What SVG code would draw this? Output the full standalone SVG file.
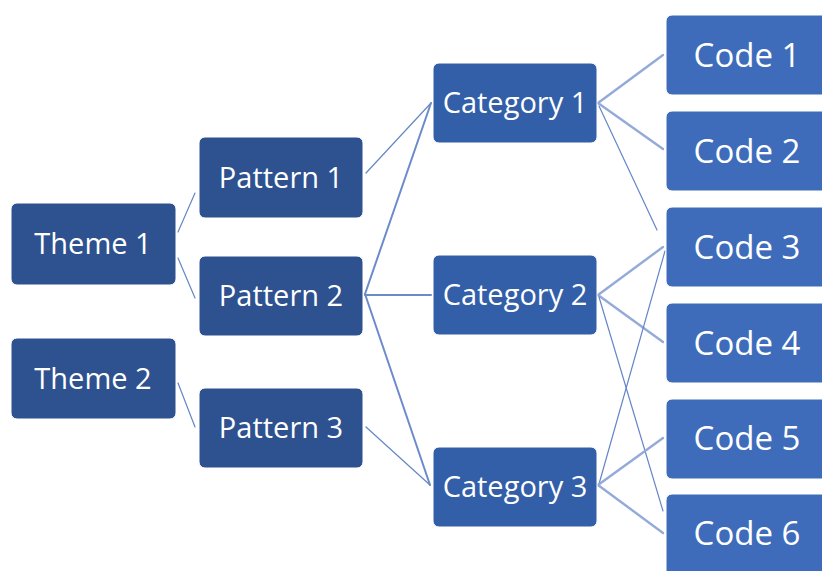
<svg xmlns="http://www.w3.org/2000/svg" width="822" height="571" viewBox="0 0 822 571">
  <style>
    .box { stroke: #ffffff; stroke-width: 1; }
    .theme { fill: #2E5190; }
    .pattern { fill: #2E5190; }
    .category { fill: #335EA8; }
    .code { fill: #3E6CBA; }
    text { font-family: "Open Sans", "Noto Sans", "Liberation Sans", sans-serif; fill: #ffffff; text-anchor: middle; }
    .t29 { font-size: 29px; }
    .t33 { font-size: 33px; }
    .thin { stroke: #6486C8; stroke-width: 1.2; fill: none; }
    .mid { stroke: #6C8BCB; stroke-width: 2; fill: none; }
    .thick { stroke: #94AAD8; stroke-width: 2.4; fill: none; }
  </style>

  <rect width="822" height="571" fill="#ffffff"/>

  <!-- connectors -->
  <g id="connectors" stroke-linecap="round">
    <!-- themes to patterns -->
    <line class="thin" x1="178" y1="232" x2="195" y2="193"/>
    <line class="thin" x1="178" y1="258" x2="195" y2="298"/>
    <line class="thin" x1="178" y1="383" x2="195" y2="427"/>
    <!-- patterns to categories -->
    <line class="thin" x1="366" y1="173" x2="431" y2="103"/>
    <line class="mid" x1="365" y1="294" x2="431" y2="103"/>
    <line class="mid" x1="365" y1="295" x2="431" y2="295"/>
    <line class="mid" x1="365" y1="294" x2="430" y2="485"/>
    <line class="thin" x1="366" y1="427" x2="430" y2="485"/>
    <!-- categories to codes -->
    <line class="thick" x1="598" y1="103" x2="663" y2="55"/>
    <line class="thick" x1="598" y1="103" x2="663" y2="149"/>
    <line class="thin" x1="599" y1="106" x2="657" y2="230"/>
    <line class="thick" x1="598" y1="295" x2="663" y2="247"/>
    <line class="thick" x1="598" y1="295" x2="663" y2="342"/>
    <line class="thin" x1="599" y1="297" x2="663" y2="511"/>
    <line class="thin" x1="599" y1="484" x2="665" y2="251"/>
    <line class="thick" x1="598" y1="485" x2="663" y2="438"/>
    <line class="thick" x1="598" y1="485" x2="663" y2="533"/>
  </g>

  <!-- themes -->
  <g id="theme1">
    <rect class="box theme" x="11" y="203" width="165" height="82" rx="6"/>
    <text class="t29" x="93" y="254">Theme 1</text>
  </g>
  <g id="theme2">
    <rect class="box theme" x="11" y="338" width="165" height="81" rx="6"/>
    <text class="t29" x="93" y="389">Theme 2</text>
  </g>

  <!-- patterns -->
  <g id="pattern1">
    <rect class="box pattern" x="199" y="137" width="164" height="81" rx="6"/>
    <text class="t29" x="281" y="188">Pattern 1</text>
  </g>
  <g id="pattern2">
    <rect class="box pattern" x="199" y="256" width="164" height="80" rx="6"/>
    <text class="t29" x="281" y="306">Pattern 2</text>
  </g>
  <g id="pattern3">
    <rect class="box pattern" x="199" y="388" width="164" height="80" rx="6"/>
    <text class="t29" x="281" y="438">Pattern 3</text>
  </g>

  <!-- categories -->
  <g id="category1">
    <rect class="box category" x="433" y="63" width="164" height="80" rx="6"/>
    <text class="t29" x="515" y="113">Category 1</text>
  </g>
  <g id="category2">
    <rect class="box category" x="433" y="255" width="164" height="80" rx="6"/>
    <text class="t29" x="515" y="305">Category 2</text>
  </g>
  <g id="category3">
    <rect class="box category" x="433" y="447" width="164" height="80" rx="6"/>
    <text class="t29" x="515" y="497">Category 3</text>
  </g>

  <!-- codes -->
  <g id="code1">
    <rect class="box code" x="666" y="15" width="170" height="80" rx="6"/>
    <text class="t33" x="747" y="67">Code 1</text>
  </g>
  <g id="code2">
    <rect class="box code" x="666" y="111" width="170" height="80" rx="6"/>
    <text class="t33" x="747" y="163">Code 2</text>
  </g>
  <g id="code3">
    <rect class="box code" x="666" y="207" width="170" height="80" rx="6"/>
    <text class="t33" x="747" y="259">Code 3</text>
  </g>
  <g id="code4">
    <rect class="box code" x="666" y="303" width="170" height="80" rx="6"/>
    <text class="t33" x="747" y="355">Code 4</text>
  </g>
  <g id="code5">
    <rect class="box code" x="666" y="399" width="170" height="80" rx="6"/>
    <text class="t33" x="747" y="450">Code 5</text>
  </g>
  <g id="code6">
    <rect class="box code" x="666" y="494" width="170" height="90" rx="6"/>
    <text class="t33" x="747" y="545">Code 6</text>
  </g>
</svg>
